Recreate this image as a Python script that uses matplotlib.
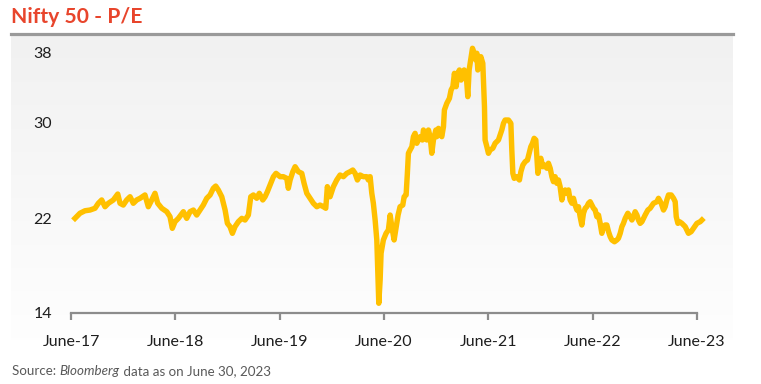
import numpy as np
import matplotlib
matplotlib.use("Agg")
import matplotlib.pyplot as plt
from matplotlib.lines import Line2D

plt.rcParams['font.family'] = ['Lato', 'DejaVu Sans']

# ---------------- data ----------------
years = [
    2017.455, 2017.503, 2017.551, 2017.599, 2017.647, 2017.679, 2017.711, 2017.743, 2017.775, 2017.823,
    2017.865, 2017.887, 2017.918, 2017.951, 2017.983, 2018.014, 2018.047, 2018.079, 2018.126, 2018.158,
    2018.191, 2018.222, 2018.248, 2018.287, 2018.335, 2018.366, 2018.388, 2018.414, 2018.446,
    2018.494, 2018.526, 2018.558, 2018.590, 2018.622, 2018.654, 2018.685, 2018.718, 2018.750, 2018.781,
    2018.804, 2018.829, 2018.862, 2018.894, 2018.916, 2018.941, 2018.964, 2018.989, 2019.021, 2019.054,
    2019.085, 2019.117, 2019.140, 2019.165, 2019.197, 2019.222, 2019.255, 2019.277, 2019.299, 2019.325,
    2019.357, 2019.382, 2019.421,
    2019.452, 2019.485, 2019.500, 2019.517, 2019.543, 2019.565, 2019.596, 2019.629, 2019.651, 2019.677,
    2019.708, 2019.740, 2019.773, 2019.804, 2019.836, 2019.859, 2019.874, 2019.900, 2019.932, 2019.964,
    2019.996, 2020.028, 2020.060, 2020.092, 2020.118, 2020.140, 2020.162, 2020.188, 2020.219, 2020.252,
    2020.267, 2020.284, 2020.300, 2020.315, 2020.332, 2020.348, 2020.358, 2020.367, 2020.380, 2020.389,
    2020.411, 2020.437, 2020.459, 2020.476, 2020.492, 2020.514, 2020.552, 2020.571, 2020.597, 2020.610,
    2020.629, 2020.641, 2020.651, 2020.667, 2020.684, 2020.699, 2020.715, 2020.731, 2020.747, 2020.763,
    2020.785, 2020.795, 2020.811, 2020.827, 2020.843, 2020.859, 2020.875, 2020.891, 2020.914, 2020.923,
    2020.939, 2020.955, 2020.971, 2020.987, 2020.996, 2021.019, 2021.044, 2021.060, 2021.077, 2021.092,
    2021.108, 2021.125, 2021.140, 2021.156, 2021.173, 2021.185, 2021.204, 2021.220, 2021.233, 2021.243,
    2021.252, 2021.265, 2021.281, 2021.297, 2021.307, 2021.316, 2021.332, 2021.345, 2021.364, 2021.380,
    2021.386, 2021.403, 2021.418, 2021.434, 2021.460, 2021.482, 2021.514, 2021.546, 2021.562, 2021.578,
    2021.610, 2021.633, 2021.642, 2021.652, 2021.665, 2021.690, 2021.715, 2021.729, 2021.748, 2021.770,
    2021.792, 2021.808, 2021.824, 2021.840, 2021.856, 2021.872, 2021.882, 2021.892, 2021.907, 2021.920,
    2021.939, 2021.955, 2021.978, 2021.993, 2022.010, 2022.026, 2022.041, 2022.057, 2022.074, 2022.089,
    2022.105, 2022.122, 2022.137, 2022.153, 2022.170, 2022.185, 2022.201, 2022.218, 2022.233, 2022.249,
    2022.266, 2022.281, 2022.297, 2022.313, 2022.329, 2022.345, 2022.361, 2022.377, 2022.393, 2022.409,
    2022.425, 2022.441, 2022.457, 2022.473, 2022.489, 2022.505, 2022.521, 2022.537, 2022.553, 2022.569,
    2022.585, 2022.601, 2022.626, 2022.649, 2022.664, 2022.681, 2022.697, 2022.712, 2022.729, 2022.754,
    2022.776, 2022.793, 2022.808, 2022.824, 2022.841, 2022.856, 2022.872, 2022.889, 2022.904, 2022.920,
    2022.946, 2022.968, 2023.000, 2023.032, 2023.048, 2023.074, 2023.096, 2023.112, 2023.128, 2023.144,
    2023.170, 2023.192, 2023.208, 2023.218, 2023.234, 2023.249, 2023.272, 2023.288, 2023.304, 2023.320,
    2023.335, 2023.361, 2023.383, 2023.416, 2023.448, 2023.464,
]
pe = [
    21.97, 22.40, 22.61, 22.67, 22.82, 23.24, 23.52, 22.95, 23.24, 23.52,
    24.02, 23.24, 23.09, 23.52, 23.79, 23.24, 23.52, 23.66, 23.94, 22.95,
    23.52, 24.08, 23.24, 22.82, 22.53, 22.11, 21.13, 21.69, 21.97,
    22.53, 21.97, 22.53, 22.67, 22.25, 22.67, 23.09, 23.66, 23.94, 24.50,
    24.69, 24.36, 23.79, 22.67, 21.55, 21.27, 20.71, 21.27, 21.69, 21.97,
    21.83, 22.25, 23.79, 23.94, 23.66, 24.08, 23.52, 23.79, 24.21, 24.78,
    25.48, 25.76, 25.48,
    25.48, 25.34, 24.50, 25.20, 25.90, 26.32, 25.90, 25.76, 24.92, 24.08,
    23.66, 23.24, 22.95, 23.09, 22.95, 22.82, 24.64, 23.79, 24.64, 25.20,
    25.62, 25.48, 25.76, 25.90, 26.04, 25.76, 25.20, 25.62, 25.48, 25.48,
    25.20, 25.48, 24.08, 23.24, 21.83, 20.15, 17.34, 14.82, 16.78, 19.03,
    20.15, 20.71, 20.99, 22.25, 21.27, 20.15, 22.25, 22.95, 23.09, 23.79,
    23.94, 25.76, 27.45, 27.73, 28.00, 28.85, 29.13, 28.29, 28.57, 28.85,
    28.57, 29.41, 29.13, 28.57, 29.41, 28.85, 27.45, 28.57, 29.41, 28.85,
    29.55, 29.13, 28.85, 29.69, 31.49, 32.25, 32.82, 33.77, 34.15, 35.68,
    34.15, 35.68, 36.06, 34.91, 35.29, 36.06, 35.68, 33.01, 36.06, 36.82,
    37.58, 38.54, 37.97, 37.20, 37.97, 36.06, 36.43, 37.58, 36.82, 31.86,
    28.57, 28.00, 27.45, 27.73, 27.87, 28.29, 28.57, 29.41, 29.97, 30.34,
    30.34, 29.97, 27.73, 25.76, 25.34, 25.48, 25.20, 25.90, 26.46, 26.74,
    26.88, 27.45, 28.00, 28.29, 28.71, 28.57, 27.16, 25.76, 26.61, 27.03,
    26.32, 26.46, 26.19, 26.61, 26.19, 25.48, 25.06, 25.48, 24.92, 25.20,
    24.64, 23.52, 24.21, 24.36, 24.08, 24.36, 23.52, 23.24, 23.66, 23.09,
    22.67, 22.95, 22.11, 21.41, 22.40, 22.82, 22.95, 23.24, 23.37, 23.09,
    22.82, 22.67, 22.11, 22.25, 21.55, 20.71, 21.27, 21.41, 21.41, 20.85,
    20.43, 20.15, 20.00, 20.15, 20.29, 20.71, 21.27, 21.55, 21.97, 22.40,
    22.11, 21.83, 22.11, 22.53, 22.25, 21.83, 21.55, 21.69, 21.97, 22.25,
    22.67, 22.82, 23.24, 23.37, 23.66, 23.24, 22.67, 22.95, 23.52, 23.94,
    23.94, 23.66, 23.37, 22.11, 21.55, 21.69, 21.55, 21.41, 21.27, 20.99,
    20.71, 20.85, 21.13, 21.55, 21.69, 21.83,
]
tick_years = [2017.417, 2018.417, 2019.417, 2020.417, 2021.417, 2022.417, 2023.417]
tick_labels = ["June-17", "June-18", "June-19", "June-20", "June-21", "June-22", "June-23"]
y_ticks = [14, 22, 30, 38]

# ---------------- figure ----------------
W, H = 761, 384
fig = plt.figure(figsize=(W / 100, H / 100), dpi=100)

# gradient panel background
bg = fig.add_axes([11 / W, 22 / H, 722 / W, 328 / H])
grad = np.linspace(0.945, 1.0, 256).reshape(-1, 1)
grad = np.clip(grad + np.where(np.linspace(0, 1, 256) > 0.93, 0.06, 0).reshape(-1, 1), 0, 1)
bg.imshow(np.dstack([grad, grad, grad]), aspect='auto', extent=[0, 1, 0, 1], origin='upper')
bg.set_axis_off()

# grey rule at the top
fig.add_artist(Line2D([11 / W, 733 / W], [(H - 34) / H] * 2, color='#9a9a9a', lw=2.3))

# title
fig.text(11 / W, (H - 22.7) / H, "Nifty 50 - P/E", fontsize=15.2, fontweight='bold',
         color='#E8452C', ha='left', va='baseline')

# main axes
ax = fig.add_axes([71 / W, (H - 313) / H, 626 / W, 260 / H])
ax.patch.set_visible(False)


def fwd(v):
    v = np.asarray(v, float)
    return np.where(v <= 30, (v - 14) * 95 / 8, 190 + (v - 30) * 70 / 8)


def inv(p):
    p = np.asarray(p, float)
    return np.where(p <= 190, 14 + p * 8 / 95, 30 + (p - 190) * 8 / 70)


ax.set_yscale('function', functions=(fwd, inv))
ax.plot(years, pe, color='#FFC000', lw=3.9, solid_joinstyle='round', clip_on=False, zorder=3)
ax.set_xlim(tick_years[0], tick_years[-1])
ax.set_ylim(14, 38)

ax.set_xticks(tick_years)
ax.set_xticklabels(tick_labels)
ax.set_yticks(y_ticks)
ax.set_yticklabels([str(t) for t in y_ticks])
ax.yaxis.set_minor_locator(matplotlib.ticker.NullLocator())
ax.xaxis.set_minor_locator(matplotlib.ticker.NullLocator())

for s in ['top', 'right', 'left']:
    ax.spines[s].set_visible(False)
ax.spines['bottom'].set_color('#8c8c8c')
ax.spines['bottom'].set_linewidth(1.6)
ax.tick_params(axis='x', direction='out', length=5, width=1.6, color='#8c8c8c',
               labelsize=11.5, labelcolor='#1e1e1e', pad=10.5)
ax.tick_params(axis='y', length=0, labelsize=11.5, labelcolor='#1e1e1e', pad=13.7)

# source line (mixed styles)
fig.canvas.draw()
r = fig.canvas.get_renderer()
x0 = 12 / W
yb = (H - 375) / H
parts = [("Source: ", 'normal'), ("Bloomberg", 'italic'), (" data as on June 30, 2023", 'normal')]
for txt, st in parts:
    t = fig.text(x0, yb, txt, fontsize=9.6, style=st, color='#595959', ha='left', va='baseline')
    bb = t.get_window_extent(renderer=r)
    x0 += bb.width / W

fig.savefig("out.png", dpi=100)
